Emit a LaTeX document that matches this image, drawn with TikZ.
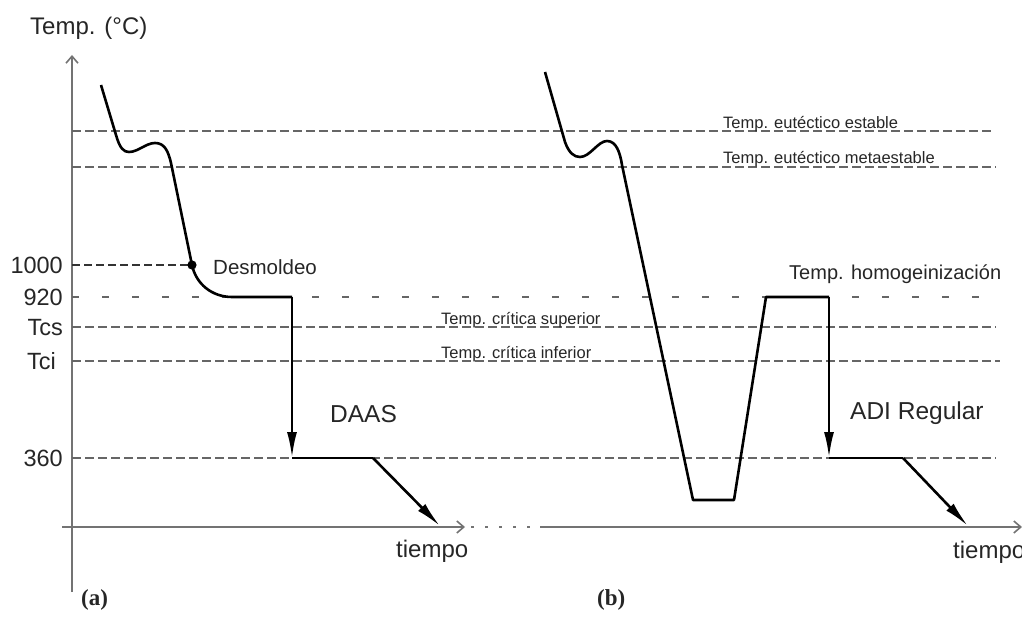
\documentclass[tikz,border=0pt]{standalone}
\usepackage{fontspec}
\setmainfont{Liberation Sans}
\newfontfamily\capserif{Liberation Serif}
\usetikzlibrary{arrows.meta}

\begin{document}
\begin{tikzpicture}[x=1pt,y=-1pt,
  refline/.style={draw=black!60, line width=1.8pt, dash pattern=on 9pt off 4pt},
  sparseline/.style={draw=black!60, line width=1.8pt, dash pattern=on 7pt off 23pt},
  markline/.style={draw=black!80, line width=1.4pt, dash pattern=on 8pt off 4pt},
  axisline/.style={draw=black!55, line width=1.6pt},
  axistip/.style={-{Straight Barb[length=7pt,width=12pt]}},
  curve/.style={draw=black, line width=2.6pt, line join=round},
  flowtip/.style={-{Latex[length=26pt,width=10pt]}},
  small/.style={font=\fontsize{16.5}{18}\selectfont, inner sep=0pt, anchor=base west, text=black!85},
  ticklabel/.style={font=\fontsize{23.5}{26}\selectfont, inner sep=0pt, text=black!85},
  biglabel/.style={font=\fontsize{24.5}{27}\selectfont, inner sep=0pt, text=black!85},
  panel/.style={font=\capserif\bfseries\fontsize{23}{25}\selectfont, inner sep=0pt, text=black!85}
]
\useasboundingbox (0,0) rectangle (1022,617);

% --- axes ---
\coordinate (ybot) at (72,592);
\coordinate (ytop) at (72,55);
\coordinate (xa0) at (62,527);
\coordinate (xa1) at (465,527);
\coordinate (gap0) at (471,527);
\coordinate (gap1) at (540,527);
\coordinate (xb1) at (1022,527);
\draw[axisline, axistip] (ybot) -- (ytop);
\draw[axisline, axistip] (xa0) -- (xa1);
\draw[axisline, dash pattern=on 3pt off 11pt] (gap0) -- (gap1);
\draw[axisline, axistip] (gap1) -- (xb1);

% --- reference temperature levels ---
\coordinate (eu0) at (72,131);   \coordinate (eu1) at (994,131);
\coordinate (me0) at (72,167);   \coordinate (me1) at (996,167);
\coordinate (t1000) at (72,265);
\coordinate (h0) at (72,297);    \coordinate (h1) at (985,297);
\coordinate (cs0) at (72,327);   \coordinate (cs1) at (996,327);
\coordinate (ci0) at (72,361);   \coordinate (ci1) at (1000,361);
\coordinate (t3600) at (72,458); \coordinate (t3601) at (996,458);
\draw[refline] (eu0) -- (eu1);
\draw[refline] (me0) -- (me1);
\draw[sparseline] (h0) -- (h1);
\draw[refline] (cs0) -- (cs1);
\draw[refline] (ci0) -- (ci1);
\draw[refline] (t3600) -- (t3601);

% --- curve (a): shake-out and austempering ---
\coordinate (a0) at (101,85);
\coordinate (dm) at (192,265);
\coordinate (a1) at (232,297);
\coordinate (a2) at (292,297);
\coordinate (a3) at (292,458);
\coordinate (a4) at (373,458);
\coordinate (a5) at (440,526);
\draw[markline] (t1000) -- (dm);
\draw[curve] (a0) -- (116,135) .. controls (120,149) and (124,152) .. (129,152)
  .. controls (138,152) and (146,143) .. (155,143)
  .. controls (164,143) and (168,150) .. (171,163) -- (dm)
  .. controls (196,284) and (212,297) .. (a1) -- (a2);
\draw[curve, flowtip] (a2) -- (a3);
\draw[curve] (a3) -- (a4);
\draw[curve, flowtip] (a4) -- (a5);
\fill (dm) circle (4.6pt);

% --- curve (b): regular ADI route ---
\coordinate (b0) at (545,72);
\coordinate (b1) at (693,500);
\coordinate (b2) at (734,500);
\coordinate (b3) at (766,297);
\coordinate (b4) at (829,297);
\coordinate (b5) at (829,458);
\coordinate (b6) at (903,458);
\coordinate (b7) at (968,526);
\draw[curve] (b0) -- (565,142) .. controls (569,153) and (574,157) .. (580,157)
  .. controls (590,157) and (598,141) .. (607,141)
  .. controls (616,141) and (620,152) .. (622,165)
  -- (b1) -- (b2) -- (b3) -- (b4);
\draw[curve, flowtip] (b4) -- (b5);
\draw[curve] (b5) -- (b6);
\draw[curve, flowtip] (b6) -- (b7);

% --- labels ---
\node[font=\fontsize{24}{26}\selectfont, inner sep=0pt, text=black!85, anchor=west] (ylab) at (30,28) {Temp. (°C)};
\node[ticklabel, anchor=east] (l1000) at (63,265) {1000};
\node[ticklabel, anchor=east] (l920) at (63,297) {920};
\node[ticklabel, anchor=east] (ltcs) at (63,328) {Tcs};
\node[ticklabel, anchor=west] (ltci) at (27,361) {Tci};
\node[ticklabel, anchor=east] (l360) at (63,458) {360};
\node[font=\fontsize{20.5}{22}\selectfont, inner sep=0pt, anchor=west, text=black!85] (ldm) at (213,267) {Desmoldeo};
\node[small] (leu) at (723,129) {Temp. eutéctico estable};
\node[small] (lme) at (723,164) {Temp. eutéctico metaestable};
\node[small] (lcs) at (441,325) {Temp. crítica superior};
\node[small] (lci) at (441,358) {Temp. crítica inferior};
\node[font=\fontsize{20}{22}\selectfont, inner sep=0pt, anchor=west, text=black!85] (lhom) at (789,274) {Temp. homogeinización};
\node[biglabel, anchor=west] (ldaas) at (330,414) {DAAS};
\node[biglabel, anchor=west] (ladi) at (850,413) {ADI Regular};
\node[font=\fontsize{24}{26}\selectfont, inner sep=0pt, text=black!85, anchor=west] (tA) at (396,551) {tiempo};
\node[font=\fontsize{24}{26}\selectfont, inner sep=0pt, text=black!85, anchor=west] (tB) at (953,552) {tiempo};
\node[panel, anchor=west] (pa) at (81,600) {(a)};
\node[panel, anchor=west] (pb) at (597,600) {(b)};
\end{tikzpicture}
\end{document}
